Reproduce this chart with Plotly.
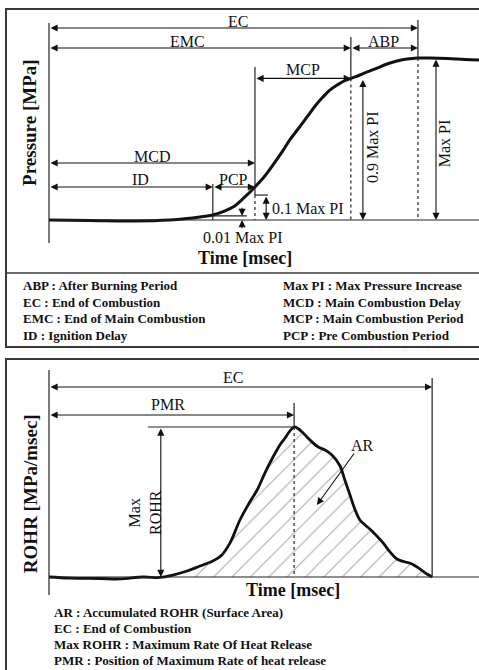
import numpy as np
import plotly.graph_objects as go

# ---------------- data (schematic) ----------------
# Top: normalised pressure rise (Max PI = 1) versus time [msec]
t_p = [0.00, 0.95, 1.95, 2.81, 3.21, 3.51, 3.81, 4.05, 4.28, 4.53, 4.79, 5.00, 5.21,
       5.42, 5.60, 5.81, 6.00, 6.19, 6.37, 6.53, 6.70, 6.86, 7.05, 7.23, 7.40, 7.63,
       7.86, 8.09, 8.33, 8.58, 8.86, 9.26, 9.67, 10.00]
p = [0.000, -0.003, -0.006, 0.000, 0.009, 0.019, 0.031, 0.052, 0.080, 0.136, 0.204,
     0.265, 0.340, 0.420, 0.494, 0.568, 0.636, 0.704, 0.759, 0.802, 0.833, 0.858,
     0.877, 0.895, 0.914, 0.938, 0.963, 0.981, 0.994, 1.000, 1.000, 0.997, 0.991, 0.988]

# Bottom: normalised ROHR (Max ROHR = 1) versus time [msec]
t_r = [0.00, 0.49, 1.19, 1.65, 2.19, 2.58, 2.88, 3.21, 3.51, 3.81, 4.02, 4.21, 4.44,
       4.67, 4.84, 5.02, 5.21, 5.37, 5.49, 5.60, 5.70, 5.79, 5.91, 6.07, 6.26, 6.42,
       6.58, 6.77, 6.88, 7.00, 7.12, 7.23, 7.35, 7.51, 7.77, 7.93, 8.09, 8.28, 8.44,
       8.63, 8.79, 8.91]
r = [0.000, -0.007, -0.010, -0.013, 0.000, -0.003, 0.013, 0.040, 0.073, 0.107, 0.147,
     0.227, 0.380, 0.500, 0.580, 0.693, 0.800, 0.880, 0.927, 0.973, 1.000, 0.990,
     0.960, 0.913, 0.867, 0.847, 0.813, 0.740, 0.647, 0.547, 0.447, 0.380, 0.347,
     0.307, 0.227, 0.167, 0.120, 0.100, 0.087, 0.053, 0.020, 0.000]

# key events [msec]
t_ID, t_MCD, t_EMC, t_EC = 3.81, 4.79, 7.02, 8.58
t_PMR, t_EC2 = 5.70, 8.91

legend_top_left = ["ABP : After Burning Period", "EC : End of Combustion",
                   "EMC : End of Main Combustion", "ID : Ignition Delay"]
legend_top_right = ["Max PI : Max Pressure Increase", "MCD : Main Combustion Delay",
                    "MCP : Main Combustion Period", "PCP : Pre Combustion Period"]
legend_bottom = ["AR : Accumulated ROHR (Surface Area)", "EC : End of Combustion",
                 "Max ROHR : Maximum Rate Of Heat Release",
                 "PMR : Position of Maximum Rate of heat release"]

# ---------------- figure ----------------
W, H = 479, 670
SERIF = "Liberation Serif"
K = "#111111"

p_MCD = float(np.interp(t_MCD, t_p, p))
p_EMC = float(np.interp(t_EMC, t_p, p))

fig = go.Figure()

# hatched accumulated ROHR area
idx = [i for i, t in enumerate(t_r) if t >= 3.21]
fig.add_trace(go.Scatter(x=[t_r[i] for i in idx], y=[r[i] for i in idx], yaxis="y2",
                         mode="lines", line=dict(width=0, shape="spline"), fill="tozeroy",
                         fillcolor="rgba(0,0,0,0)",
                         fillpattern=dict(shape="/", fgcolor="#555555", bgcolor="rgba(0,0,0,0)",
                                          size=13, solidity=0.08),
                         hoverinfo="skip", showlegend=False))
fig.add_trace(go.Scatter(x=t_p, y=p, mode="lines", line=dict(color=K, width=3, shape="spline"),
                         showlegend=False))
fig.add_trace(go.Scatter(x=t_r, y=r, yaxis="y2", mode="lines",
                         line=dict(color=K, width=2.8, shape="spline"), showlegend=False))

shapes = []


def line(x0, y0, x1, y1, yref="y", dash="solid", width=1.2, color="#222"):
    shapes.append(dict(type="line", xref="x", yref=yref, x0=x0, y0=y0, x1=x1, y1=y1,
                       line=dict(color=color, width=width, dash=dash)))


annotations = []


def arrow(x0, y0, x1, y1, yref="y", both=True):
    annotations.append(dict(x=x1, y=y1, ax=x0, ay=y0, xref="x", yref=yref, axref="x",
                            ayref=yref, text="", showarrow=True, arrowhead=2, arrowsize=1.3,
                            arrowwidth=1.1, arrowcolor="#111",
                            arrowside="end+start" if both else "end",
                            standoff=0, startstandoff=0))


def text(x, y, s, yref="y", size=16, angle=0, bold=False, xanchor="center"):
    annotations.append(dict(x=x, y=y, xref="x", yref=yref, text=f"<b>{s}</b>" if bold else s,
                            showarrow=False, textangle=angle, xanchor=xanchor, yanchor="middle",
                            font=dict(family=SERIF, size=size, color=K)))


# ---- top panel ----
line(0, 0, 10, 0)
line(0, -0.142, 0, 1.216)
line(t_EC, 1.235, t_EC, 1.0)
line(t_EC, 1.0, t_EC, 0, dash="dot")
line(t_EMC, 1.13, t_EMC, p_EMC)
line(t_EMC, p_EMC, t_EMC, 0, dash="dot")
line(t_MCD, 0.944, t_MCD, 0.154)
line(t_MCD, 0.154, t_MCD, 0, dash="dot")
line(t_ID, 0.222, t_ID, 0)
line(t_MCD, 0.154, 5.09, 0.154)
line(t_ID, 0.025, 4.60, 0.025)

arrow(0, 1.185, t_EC, 1.185)
arrow(0, 1.062, t_EMC, 1.062)
arrow(t_EMC, 1.062, t_EC, 1.062)
arrow(t_MCD, p_EMC, t_EMC, p_EMC)
arrow(0, 0.352, t_MCD, 0.352)
arrow(0, p_MCD, t_ID, p_MCD)
arrow(t_ID, p_MCD, t_MCD, p_MCD)
arrow(5.05, 0.154, 5.05, 0)
arrow(7.30, p_EMC, 7.30, 0)
arrow(9.0, 1.0, 9.0, 0)
arrow(4.49, 0.085, 4.49, 0.025, both=False)
arrow(4.49, -0.06, 4.49, 0.0, both=False)

text(4.40, 1.228, "EC")
text(3.23, 1.099, "EMC")
text(7.77, 1.099, "ABP")
text(5.91, 0.926, "MCP")
text(2.40, 0.389, "MCD")
text(2.12, 0.247, "ID")
text(4.28, 0.247, "PCP")
text(5.15, 0.074, "0.1 Max PI", xanchor="left")
text(4.51, -0.105, "0.01 Max PI")
text(7.51, 0.45, "0.9 Max PI", angle=-90)
text(9.19, 0.475, "Max PI", angle=-90)
text(4.56, -0.235, "Time [msec]", size=18, bold=True)
text(-0.44, 0.60, "Pressure [MPa]", size=19, angle=-90, bold=True)

# ---- bottom panel ----
Y2 = "y2"
line(0, 0, 10, 0, Y2)
line(0, -0.12, 0, 1.38, Y2)
line(t_EC2, 1.327, t_EC2, 0, Y2)
line(t_PMR, 1.16, t_PMR, 1.0, Y2)
line(t_PMR, 1.0, t_PMR, 0, Y2, dash="dot")
line(2.30, 1.0, t_PMR, 1.0, Y2)

arrow(0, 1.267, t_EC2, 1.267, Y2)
arrow(0, 1.08, t_PMR, 1.08, Y2)
arrow(2.60, 1.0, 2.60, 0, Y2)
arrow(7.12, 0.833, 6.23, 0.48, Y2, both=False)

text(4.28, 1.333, "EC", Y2)
text(2.77, 1.147, "PMR", Y2)
text(2.23, 0.433, "Max<br>ROHR", Y2, angle=-90)
text(7.30, 0.88, "AR", Y2)
text(5.67, -0.087, "Time [msec]", Y2, size=18, bold=True)
text(-0.44, 0.553, "ROHR [MPa/msec]", Y2, size=19, angle=-90, bold=True)

# ---- frames and legends (paper coordinates, from pixel layout) ----
def px(x):
    return x / W


def py(y):
    return 1 - y / H


frame = dict(color="#3a3a3a", width=2)
shapes.append(dict(type="rect", xref="paper", yref="paper", x0=px(6), x1=1.05,
                   y0=py(347), y1=py(9), line=frame))
shapes.append(dict(type="line", xref="paper", yref="paper", x0=px(6), x1=1.05,
                   y0=py(273), y1=py(273), line=dict(color="#3a3a3a", width=1.6)))
shapes.append(dict(type="rect", xref="paper", yref="paper", x0=px(6), x1=1.05,
                   y0=-0.05, y1=py(359), line=frame))

for lines, x0, ys in [(legend_top_left, 21, [285, 302, 318, 335]),
                      (legend_top_right, 281, [285, 302, 318, 335]),
                      (legend_bottom, 52, [612, 628, 644, 660])]:
    for s, yy in zip(lines, ys):
        annotations.append(dict(x=px(x0), y=py(yy), xref="paper", yref="paper",
                                text=f"<b>{s}</b>", showarrow=False, xanchor="left",
                                yanchor="middle",
                                font=dict(family=SERIF, size=13, color=K)))

fig.update_layout(
    width=W, height=H, margin=dict(l=0, r=0, t=0, b=0),
    paper_bgcolor="white", plot_bgcolor="white",
    xaxis=dict(range=[-49 / 43, 10], domain=[0, 1], visible=False, fixedrange=True),
    yaxis=dict(range=[(220 - 670) / 162, 220 / 162], domain=[0, 1], visible=False,
               fixedrange=True),
    yaxis2=dict(range=[(577 - 670) / 150, 577 / 150], domain=[0, 1], overlaying="y",
                visible=False, fixedrange=True),
    shapes=shapes, annotations=annotations, showlegend=False,
)

fig.write_html("out.html", config={"displayModeBar": False},
               post_script="document.body.style.margin='0';document.body.style.overflow='hidden';")
